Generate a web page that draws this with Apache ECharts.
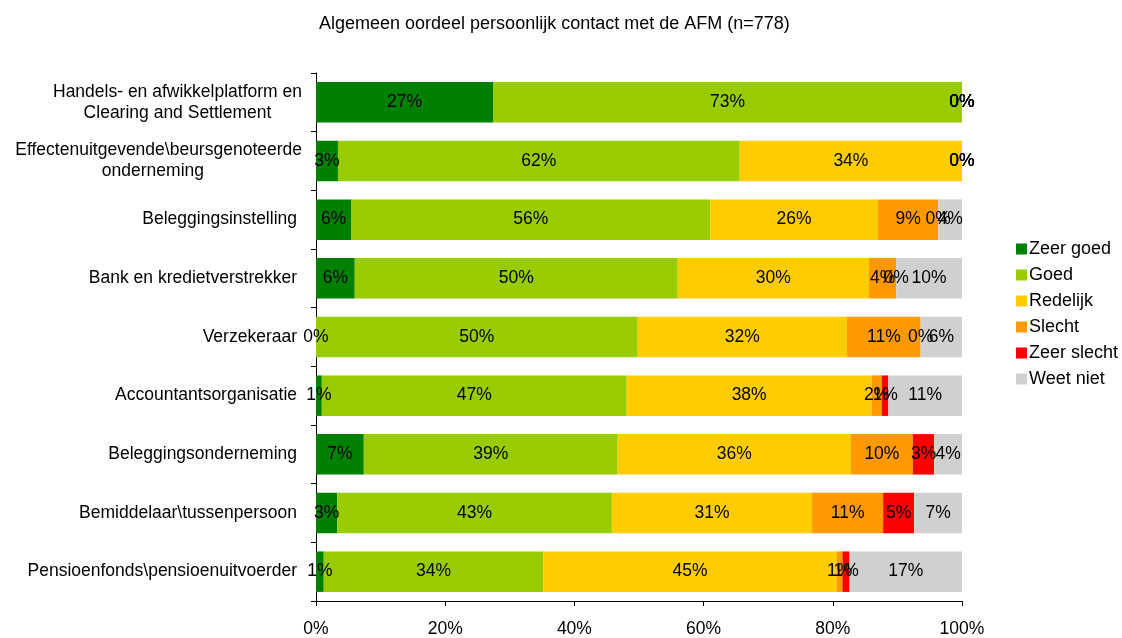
<!DOCTYPE html>
<html>
<head>
<meta charset="utf-8">
<script src="https://cdn.jsdelivr.net/npm/echarts@6/dist/echarts.min.js"></script>
<style>
  html, body { margin: 0; padding: 0; background: #fff; }
  #chart { width: 1122px; height: 638px; }
</style>
</head>
<body>
<div id="chart"></div>
<script>
// Categories (top to bottom) and the share of each answer, in percent
const categories = [
  'Handels- en afwikkelplatform en\nClearing and Settlement',
  'Effectenuitgevende\\beursgenoteerde\nonderneming',
  'Beleggingsinstelling',
  'Bank en kredietverstrekker',
  'Verzekeraar',
  'Accountantsorganisatie',
  'Beleggingsonderneming',
  'Bemiddelaar\\tussenpersoon',
  'Pensioenfonds\\pensioenuitvoerder'
];
const seriesNames = ['Zeer goed', 'Goed', 'Redelijk', 'Slecht', 'Zeer slecht', 'Weet niet'];
const zeerGoed   = [27.4,  3.4,  5.5,  6.0,  0.0,  0.9,  7.4,  3.3,  1.2];
const goed       = [72.6, 62.2, 55.5, 50.0, 49.8, 47.2, 39.3, 42.5, 34.0];
const redelijk   = [ 0.0, 34.4, 26.0, 29.6, 32.4, 37.9, 36.1, 31.0, 45.4];
const slecht     = [ 0.0,  0.0,  9.3,  4.2, 11.4,  1.6,  9.6, 11.0,  0.9];
const zeerSlecht = [ 0.0,  0.0,  0.0,  0.0,  0.0,  1.0,  3.3,  4.8,  1.1];
const weetNiet   = [ 0.0,  0.0,  3.7, 10.2,  6.4, 11.4,  4.3,  7.4, 17.4];
const xTicks = [0, 20, 40, 60, 80, 100];

const values = [zeerGoed, goed, redelijk, slecht, zeerSlecht, weetNiet];
const colors = ['#008000', '#99CC00', '#FFCC00', '#FF9900', '#FF0000', '#D0D0D0'];
const FONT = 'Liberation Sans, Arial, sans-serif';
const FS = 17.5;

const chart = echarts.init(document.getElementById('chart'));

// Two-line category labels: lines centred on each other; the second label's
// last line sits a bit further right, as in the original worksheet layout.
function categoryLabel(v, idx) {
  const lines = v.split('\n');
  if (lines.length === 1) return '{s|' + v + '}';
  if (idx === 1) {
    return '{c|' + lines[0] + '}\n{r|' + lines[1] + '}{sp| }';
  }
  return lines.map(l => '{c|' + l + '}').join('\n');
}

chart.setOption({
  animation: false,
  title: {
    text: 'Algemeen oordeel persoonlijk contact met de AFM (n=778)',
    left: 314,
    top: 10,
    textStyle: { fontFamily: FONT, fontSize: 18, fontWeight: 'normal', color: '#000' }
  },
  legend: {
    orient: 'vertical',
    left: 1011,
    top: 235,
    itemWidth: 11,
    itemHeight: 11,
    itemGap: 8,
    icon: 'rect',
    data: seriesNames,
    textStyle: { fontFamily: FONT, fontSize: 18, color: '#000', padding: [0, 0, 0, -3] }
  },
  grid: { left: 316, right: 160, top: 73, bottom: 33, containLabel: false },
  xAxis: {
    type: 'value',
    min: xTicks[0],
    max: xTicks[xTicks.length - 1],
    interval: 20,
    splitLine: { show: false },
    axisLine: { show: true, lineStyle: { color: '#000' } },
    axisTick: { show: true, length: 5, lineStyle: { color: '#000' } },
    axisLabel: {
      margin: 19,
      fontFamily: FONT,
      fontSize: FS,
      color: '#000',
      formatter: v => v + '%'
    }
  },
  yAxis: {
    type: 'category',
    inverse: true,
    data: categories,
    axisLine: { show: true, lineStyle: { color: '#000' } },
    axisTick: { show: true, length: 5, lineStyle: { color: '#000' } },
    axisLabel: {
      margin: 14,
      fontFamily: FONT,
      fontSize: FS,
      color: '#000',
      formatter: categoryLabel,
      rich: {
        s:  { fontFamily: FONT, fontSize: FS, color: '#000', padding: [0, 5, 0, 0] },
        c:  { fontFamily: FONT, fontSize: FS, color: '#000', align: 'center', lineHeight: 21 },
        r:  { fontFamily: FONT, fontSize: FS, color: '#000', align: 'right', lineHeight: 21 },
        sp: { fontFamily: FONT, fontSize: FS, color: '#000', align: 'right', width: 98, lineHeight: 21 }
      }
    }
  },
  series: seriesNames.map((name, i) => ({
    name: name,
    type: 'bar',
    stack: 'total',
    barCategoryGap: '31%',
    itemStyle: { color: colors[i] },
    label: {
      show: true,
      position: 'inside',
      fontFamily: FONT,
      fontSize: FS,
      color: '#000',
      formatter: p => Math.round(p.value) + '%'
    },
    data: values[i]
  }))
});
</script>
</body>
</html>
